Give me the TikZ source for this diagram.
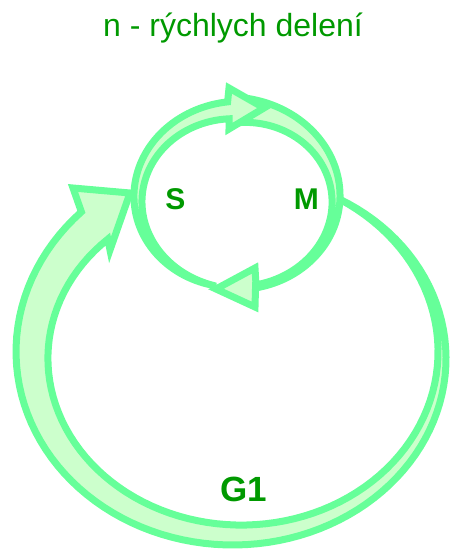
\documentclass[tikz,border=0pt]{standalone}
\usepackage{fontspec}
\setmainfont{Liberation Sans}
\definecolor{lineg}{HTML}{66FF99}
\definecolor{fillg}{HTML}{CCFFCC}
\definecolor{textg}{HTML}{009900}
\begin{document}
\begin{tikzpicture}[x=1pt,y=-1pt,
  band/.style={draw=lineg,fill=fillg,line width=7pt,line join=miter},
  lbl/.style={text=textg,font=\bfseries\fontsize{30}{30}\selectfont,inner sep=0pt}]
\useasboundingbox (0,0) rectangle (453,551);
% big arrow G1
\path[band] plot[domain=-60:226,samples=100,variable=\t]
  ({237+(205+19*(\t+60)/286)*cos(\t)},{355+(180+19*(\t+60)/286)*sin(\t)})
  -- (73,188) -- (130,193) -- (110,250)
  -- plot[domain=226:-60,samples=100,variable=\t]
  ({237+(205-19*(\t+60)/286)*cos(\t)},{355+(180-19*(\t+60)/286)*sin(\t)})
  -- cycle;
% small arrow B (top -> bottom, right side)
\path[band] plot[domain=272:439,samples=80,variable=\t]
  ({237+(99+1.5+11*((439-\t)/167)^2)*cos(\t)},{199+(89+1.5+11*((439-\t)/167)^2)*sin(\t)})
  -- (255,268) -- (216,289) -- (255,307)
  -- plot[domain=439:272,samples=80,variable=\t]
  ({237+(99-1.5-11*((439-\t)/167)^2)*cos(\t)},{199+(89-1.5-11*((439-\t)/167)^2)*sin(\t)})
  -- cycle;
% small arrow A (bottom -> top, left side)
\path[band] plot[domain=104:265,samples=80,variable=\t]
  ({237+(99+8.5*(\t-104)/161)*cos(\t)},{199+(89+8.5*(\t-104)/161)*sin(\t)})
  -- (229,88) -- (264,108) -- (229,129)
  -- plot[domain=265:104,samples=80,variable=\t]
  ({237+(99-8.5*(\t-104)/161)*cos(\t)},{199+(89-8.5*(\t-104)/161)*sin(\t)})
  -- cycle;
\node[text=textg,font=\fontsize{32}{32}\selectfont,anchor=base,inner sep=0pt] (title) at (233,36.7) {n - rýchlych delení};
\node[lbl] (S) at (175.3,199) {S};
\node[lbl] (M) at (306.3,199.3) {M};
\node[lbl,font=\bfseries\fontsize{35}{35}\selectfont] (G1) at (243.8,489.2) {G1};
\end{tikzpicture}
\end{document}
